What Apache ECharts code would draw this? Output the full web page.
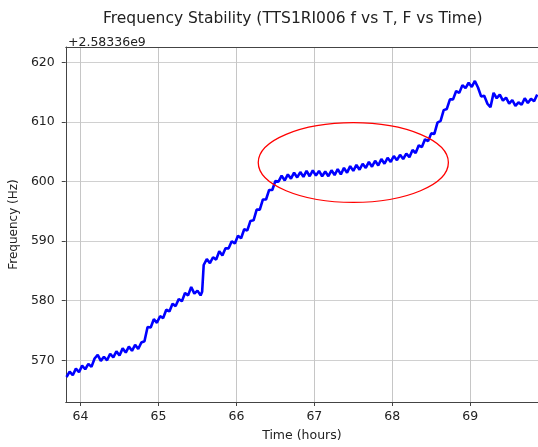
<!DOCTYPE html>
<html>
<head>
<meta charset="utf-8">
<script src="https://cdn.jsdelivr.net/npm/echarts@6/dist/echarts.min.js"></script>
<style>
  html, body { margin: 0; padding: 0; background: #fff; }
  #main { width: 538px; height: 447px; }
</style>
</head>
<body>
<div id="main"></div>
<script>
const TITLE = 'Frequency Stability (TTS1RI006 f vs T, F vs Time)';
const OFFSET_TEXT = '+2.58336e9';

// 时间(小时)
const timeHours = [
  63.82, 63.86, 63.90, 63.94, 63.98, 64.02, 64.06, 64.10, 64.14, 64.18,
  64.22, 64.26, 64.30, 64.34, 64.38, 64.42, 64.46, 64.50, 64.54, 64.58,
  64.62, 64.66, 64.70, 64.74, 64.78, 64.82, 64.86, 64.90, 64.94, 64.98,
  65.02, 65.06, 65.10, 65.14, 65.18, 65.22, 65.26, 65.30, 65.34, 65.38,
  65.42, 65.46, 65.50, 65.54, 65.56, 65.58, 65.62, 65.66, 65.70, 65.74,
  65.78, 65.82, 65.86, 65.90, 65.94, 65.98, 66.02, 66.06, 66.10, 66.14,
  66.18, 66.22, 66.26, 66.30, 66.34, 66.38, 66.42, 66.46, 66.50, 66.54,
  66.58, 66.62, 66.66, 66.70, 66.74, 66.78, 66.82, 66.86, 66.90, 66.94,
  66.98, 67.02, 67.06, 67.10, 67.14, 67.18, 67.22, 67.26, 67.30, 67.34,
  67.38, 67.42, 67.46, 67.50, 67.54, 67.58, 67.62, 67.66, 67.70, 67.74,
  67.78, 67.82, 67.86, 67.90, 67.94, 67.98, 68.02, 68.06, 68.10, 68.14,
  68.18, 68.22, 68.26, 68.30, 68.34, 68.38, 68.42, 68.46, 68.50, 68.54,
  68.58, 68.62, 68.66, 68.70, 68.74, 68.78, 68.82, 68.86, 68.90, 68.94,
  68.98, 69.02, 69.06, 69.10, 69.14, 69.18, 69.22, 69.26, 69.30, 69.34,
  69.38, 69.42, 69.46, 69.50, 69.54, 69.58, 69.62, 69.66, 69.70, 69.74,
  69.78, 69.82, 69.86
];

// 频率偏移(Hz)，相对 2.58336e9
const freqHz = [
  567.2, 568.1, 567.5, 568.6, 568.0, 569.1, 568.5, 569.4, 568.9, 570.3,
  570.9, 569.9, 570.6, 570.0, 571.1, 570.5, 571.5, 570.8, 572.0, 571.3,
  572.3, 571.6, 572.6, 571.9, 573.0, 573.2, 575.6, 575.5, 576.9, 576.3,
  577.4, 577.1, 578.5, 578.2, 579.5, 579.1, 580.3, 579.9, 581.3, 580.9,
  582.3, 581.2, 581.7, 580.9, 581.5, 586.0, 587.0, 586.3, 587.3, 586.9,
  588.3, 587.6, 588.8, 588.8, 590.0, 589.6, 590.9, 590.5, 592.0, 591.8,
  593.4, 593.5, 595.3, 595.3, 597.0, 597.0, 598.6, 598.6, 600.1, 600.0,
  601.0, 600.2, 601.2, 600.5, 601.5, 600.7, 601.6, 600.8, 601.8, 600.9,
  601.9, 601.0, 601.8, 600.9, 601.7, 600.9, 601.9, 601.1, 602.1, 601.2,
  602.3, 601.5, 602.6, 601.8, 602.8, 602.0, 603.0, 602.3, 603.3, 602.5,
  603.5, 602.7, 603.8, 603.0, 604.0, 603.3, 604.3, 603.6, 604.5, 603.8,
  604.7, 604.1, 605.3, 604.8, 606.1, 605.8, 607.1, 606.8, 608.1, 608.0,
  609.9, 610.2, 612.0, 612.2, 613.8, 613.8, 615.2, 614.9, 616.2, 615.7,
  616.6, 615.9, 616.9, 615.8, 614.3, 614.4, 613.1, 612.5, 614.9, 614.0,
  614.6, 613.6, 614.1, 613.1, 613.7, 612.7, 613.3, 612.9, 614.0, 613.2,
  613.9, 613.5, 614.6
];

// 红色椭圆标注: [中心时间, 中心频率, 时间半径, 频率半径]
const ellipseMark = [67.5, 603.2, 1.22, 6.7];

const xRange = [63.81, 69.87];
const yRange = [563.0, 622.6];

const lineData = [];
for (let i = 0; i < timeHours.length; i++) {
  lineData.push([timeHours[i], freqHz[i]]);
}

const FONT = 'DejaVu Sans';
const AXIS_COLOR = '#444';
const chart = echarts.init(document.getElementById('main'), null, { renderer: 'canvas' });

var option = {
  animation: false,
  title: [{
    text: TITLE,
    left: 98,
    top: 6,
    textStyle: { fontFamily: FONT, fontSize: 15.5, fontWeight: 'normal', color: '#222' }
  }, {
    text: OFFSET_TEXT,
    left: 63,
    top: 31,
    textStyle: { fontFamily: FONT, fontSize: 12.5, fontWeight: 'normal', color: '#222' }
  }],
  grid: {
    left: 64,
    top: 47,
    right: 0,
    bottom: 44
  },
  xAxis: [{
    type: 'value',
    min: xRange[0],
    max: xRange[1],
    name: 'Time (hours)',
    nameLocation: 'middle',
    nameGap: 27,
    nameTextStyle: { fontFamily: FONT, fontSize: 12.5, color: '#222' },
    axisLine: { lineStyle: { color: AXIS_COLOR } },
    axisTick: { show: true, length: 4, lineStyle: { color: AXIS_COLOR } },
    axisLabel: {
      fontFamily: FONT, fontSize: 12.5, color: '#222', margin: 8,
      showMinLabel: false, showMaxLabel: false
    },
    splitLine: { lineStyle: { color: '#c6c6c6', width: 1 } }
  }, {
    // 上边框
    type: 'value',
    position: 'top',
    min: xRange[0],
    max: xRange[1],
    axisLine: { show: true, lineStyle: { color: AXIS_COLOR } },
    axisTick: { show: false },
    axisLabel: { show: false },
    splitLine: { show: false }
  }],
  yAxis: {
    type: 'value',
    min: yRange[0],
    max: yRange[1],
    name: 'Frequency (Hz)',
    nameLocation: 'middle',
    nameGap: 41,
    nameTextStyle: { fontFamily: FONT, fontSize: 12, color: '#222' },
    axisLine: { show: true, lineStyle: { color: AXIS_COLOR } },
    axisTick: { show: true, length: 4, lineStyle: { color: AXIS_COLOR } },
    axisLabel: {
      fontFamily: FONT, fontSize: 12.5, color: '#222', margin: 11,
      showMinLabel: false, showMaxLabel: false
    },
    splitLine: { lineStyle: { color: '#d0d0d0', width: 1 } }
  },
  series: [{
    name: 'freq',
    type: 'line',
    data: lineData,
    symbol: 'none', //取消折点圆圈
    lineStyle: { color: '#0000ff', width: 2.6 },
    z: 3
  }, {
    name: 'mark',
    type: 'custom',
    data: [ellipseMark],
    z: 4,
    renderItem: function (params, api) {
      const c = api.coord([api.value(0), api.value(1)]);
      const rx = api.size([api.value(2), 0])[0];
      const ry = api.size([0, api.value(3)])[1];
      return {
        type: 'ellipse',
        shape: { cx: c[0], cy: c[1], rx: rx, ry: ry },
        style: { fill: 'none', stroke: '#ff0000', lineWidth: 1.3 }
      };
    }
  }]
};

chart.setOption(option);
</script>
</body>
</html>
